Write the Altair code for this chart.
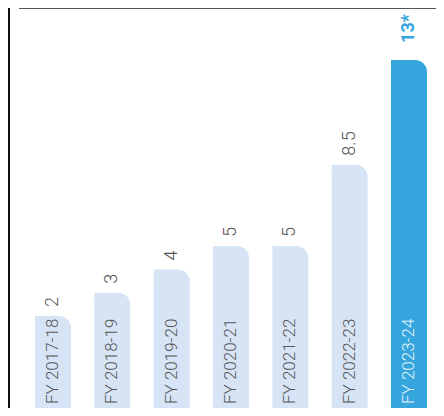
import altair as alt
import pandas as pd

years = ["FY 2017-18", "FY 2018-19", "FY 2019-20", "FY 2020-21", "FY 2021-22", "FY 2022-23", "FY 2023-24"]
values = [2, 3, 4, 5, 5, 8.5, 13]
value_labels = ["2", "3", "4", "5", "5", "8.5", "13*"]
kinds = ["base", "base", "base", "base", "base", "base", "hi"]

Y_MIN = -1.955
Y_MAX = 15.23

df = pd.DataFrame({
    "year": years,
    "value": values,
    "label": value_labels,
    "kind": kinds,
    "base": [Y_MIN] * len(years),
})

W, H = 428, 400

x = alt.X("year:N", sort=years, axis=None,
          scale=alt.Scale(range=[27, 419], paddingInner=0.393, paddingOuter=0))
y_scale = alt.Scale(domain=[Y_MIN, Y_MAX], nice=False, zero=False)

base = alt.Chart(df)
is_hi = alt.datum.kind == "hi"

bars = base.mark_bar(cornerRadiusTopRight=12).encode(
    x=x,
    y=alt.Y("value:Q", scale=y_scale, axis=None),
    y2="base:Q",
    color=alt.condition(is_hi, alt.value("#35a5dd"), alt.value("#d6e4f5")),
)

cat_text = base.mark_text(angle=270, align="left", baseline="middle", dx=4,
                          font="Roboto", fontSize=17, fontWeight=300).encode(
    x=x,
    y=alt.Y("base:Q", scale=y_scale, axis=None),
    text="year:N",
    color=alt.condition(is_hi, alt.value("#e6f2fb"), alt.value("#555555")),
)

val_base = base.transform_filter(alt.datum.kind == "base").mark_text(
    angle=270, align="left", baseline="middle", dx=9,
    font="Roboto", fontSize=18, fontWeight=300, color="#555555").encode(
    x=x,
    y=alt.Y("value:Q", scale=y_scale, axis=None),
    text="label:N",
)

val_hi = base.transform_filter(alt.datum.kind == "hi").mark_text(
    angle=270, align="left", baseline="middle", dx=17,
    font="Roboto", fontSize=18, fontWeight="bold", color="#35a5dd").encode(
    x=x,
    y=alt.Y("value:Q", scale=y_scale, axis=None),
    text="label:N",
)

top_rule = alt.Chart(pd.DataFrame({"a": [0]})).mark_rule(color="#555555", strokeWidth=2).encode(
    x=alt.value(11), x2=alt.value(W), y=alt.value(0)
)
left_rule = alt.Chart(pd.DataFrame({"a": [0]})).mark_rule(color="#111111", strokeWidth=2).encode(
    x=alt.value(1), y=alt.value(0), y2=alt.value(H)
)

chart = alt.layer(bars, cat_text, val_base, val_hi, top_rule, left_rule).properties(
    width=W, height=H,
    autosize=alt.AutoSizeParams(type="none"),
    padding=0,
).configure_view(stroke=None)

chart.save("out.html", embed_options={"renderer": "svg", "actions": False})
